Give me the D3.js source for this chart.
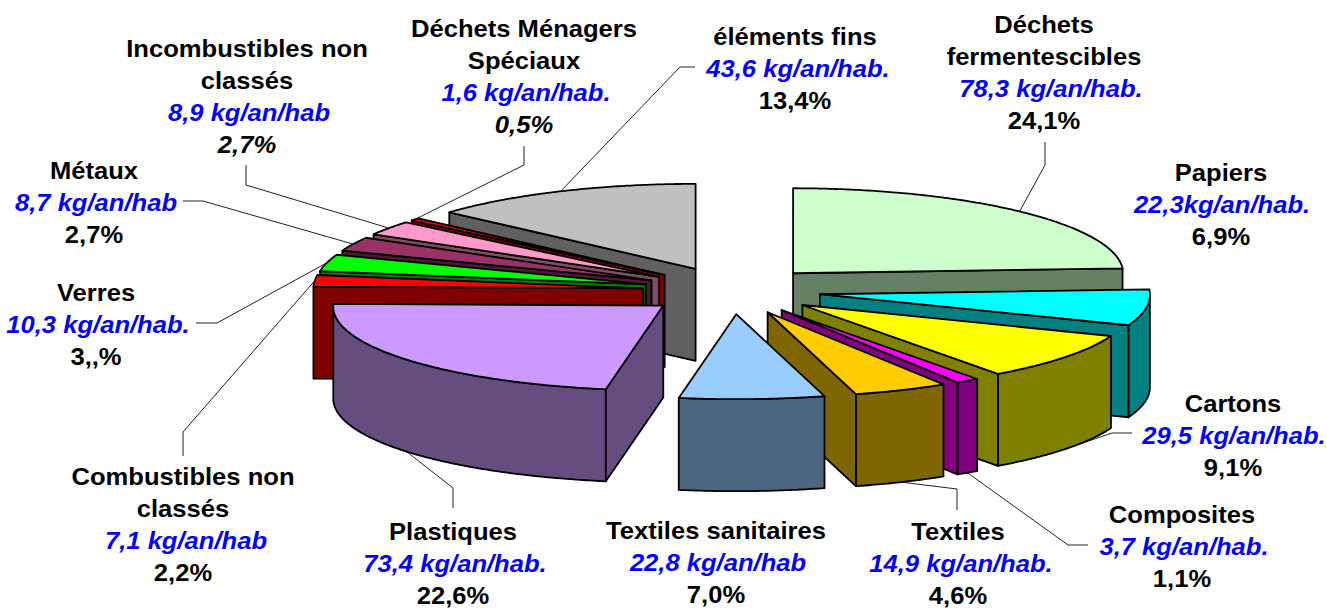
<!DOCTYPE html>
<html>
<head>
<meta charset="utf-8">
<script src="https://d3js.org/d3.v7.min.js"></script>
<title>Déchets par catégorie</title>
<style>
  body { margin:0; background:#fff; }
  text { font-family:"Liberation Sans", Arial, sans-serif; font-weight:bold; text-anchor:middle; font-size:24px; }
</style>
</head>
<body>
<div id="chart"></div>
<script>
// values, clockwise from 12 o'clock
var categories = ["Déchets|fermentescibles","Papiers","Cartons","Composites","Textiles",
  "Textiles sanitaires","Plastiques","Combustibles non|classés","Verres","Métaux",
  "Incombustibles non|classés","Déchets Ménagers|Spéciaux","éléments fins"];
var kgValues = [78.3,22.3,29.5,3.7,14.9,22.8,73.4,7.1,10.3,8.7,8.9,1.6,43.6];
var kgLabels = ["78,3 kg/an/hab.","22,3kg/an/hab.","29,5 kg/an/hab.","3,7 kg/an/hab.","14,9 kg/an/hab.",
  "22,8 kg/an/hab","73,4 kg/an/hab.","7,1 kg/an/hab","10,3 kg/an/hab.","8,7 kg/an/hab",
  "8,9 kg/an/hab","1,6 kg/an/hab.","43,6 kg/an/hab."];
var pctLabels = ["24,1%","6,9%","9,1%","1,1%","4,6%","7,0%","22,6%","2,2%","3,,%","2,7%","2,7%","0,5%","13,4%"];
var topColors = ["#CCFFCC","#00FFFF","#FFFF00","#FF00FF","#FFCC00","#99CCFF","#CC99FF",
  "#FF0000","#00FF00","#993366","#FF99CC","#FF0000","#C0C0C0"];

// label placement: centre x, centre y of the first line, nudge of the blue line
var labelX = [1044,1221,1233,1182,958,716,453,183,96,94,247,524,795];
var labelY = [24,172,403,514,531,530,531,476,292,170,48,28,36];
var kgShift = [7,1,1,2,3,2,2,3,2,2,2,2,3];
// leader elbows, from the slice edge to the label
var elbows = [
  [[1045,165],[1045,142]], [], [[1112,433],[1132,433]], [[1068,545],[1088,545]],
  [[957,489],[957,510]], [], [[453,488],[453,508]], [[183,432],[183,456]],
  [[217,323],[196,323]], [[203,201],[183,201]], [[246,185],[246,165]],
  [[524,165],[524,146]], [[680,67],[695,67]]
];

var w = 1327, h = 608;
var cx = 732, cy = 290.5;    // pie centre
var rx = 330, ry = 85;       // slice ellipse
var explodeX = 89, explodeY = 23.7;
var depth = 92;
var lineH = 32.2;
var widen = 1.066;           // labels are a bit wider than plain Arial
var nearGrow = 0.012;        // front of the pie is a little wider

var svg = d3.select("#chart").append("svg")
  .attr("width", w).attr("height", h).style("display", "block");

var pie = d3.pie().sort(null).value(function(d){ return d; });
var arcs = pie(kgValues);

var unit = d3.scaleLinear().domain([-1,1]);
var sx = unit.copy().range([-rx, rx]);
var sy = unit.copy().range([ry, -ry]);   // north is up

function apex(d) {
  var m = (d.startAngle + d.endAngle)/2;
  return [cx + explodeX*Math.sin(m), cy - explodeY*Math.cos(m)];
}
function rim(d, a) {
  var c = apex(d);
  var grow = 1 + nearGrow*Math.max(0, -Math.cos(a));
  return [c[0] + sx(Math.sin(a))*grow, c[1] + sy(Math.cos(a))];
}
function arcPoints(d, a0, a1) {
  var n = Math.max(2, Math.ceil((a1-a0)/0.01));
  return d3.range(n+1).map(function(i){ return rim(d, a0 + (a1-a0)*i/n); });
}
function down(p) { return [p[0], p[1]+depth]; }

function wallColor(c) {
  var col = d3.rgb(c);
  return d3.rgb(col.r/2, col.g/2, col.b/2).formatHex();
}

var line = d3.line();
function poly(pts) { return line(pts) + "Z"; }

var order = d3.range(arcs.length).sort(function(a,b){
  var ma = (arcs[a].startAngle+arcs[a].endAngle)/2, mb = (arcs[b].startAngle+arcs[b].endAngle)/2;
  return d3.descending(Math.cos(ma), Math.cos(mb));
});

// leaders sit under the slices
var leaders = svg.append("g").attr("fill","none").attr("stroke","#222").attr("stroke-width",1);
arcs.forEach(function(d,i){
  if (!elbows[i].length) return;
  var m = (d.startAngle+d.endAngle)/2;
  var p = rim(d, m);
  if (Math.cos(m) < 0) p = down(p);
  leaders.append("path").attr("d", line([p].concat(elbows[i])));
});

var slices = svg.selectAll("g.slice").data(order).enter().append("g").attr("class","slice")
  .attr("stroke","#000").attr("stroke-width",1.8).attr("stroke-linejoin","round");

slices.each(function(i){
  var d = arcs[i], g = d3.select(this);
  var wall = wallColor(topColors[i]);
  var c = apex(d);
  var a0 = d.startAngle, a1 = d.endAngle;

  // outer wall, front half only
  var f0 = Math.max(a0, Math.PI/2), f1 = Math.min(a1, Math.PI*1.5);
  if (f1 > f0) {
    var top = arcPoints(d, f0, f1);
    g.append("path").attr("fill", wall).attr("d", poly(top.concat(top.map(down).reverse())));
  }
  // radial walls that face the viewer
  if (Math.sin(a0) < -1e-6) {
    var p0 = rim(d, a0);
    g.append("path").attr("fill", wall).attr("d", poly([c, p0, down(p0), down(c)]));
  }
  if (Math.sin(a1) > 1e-6) {
    var p1 = rim(d, a1);
    g.append("path").attr("fill", wall).attr("d", poly([c, p1, down(p1), down(c)]));
  }
  // top face
  g.append("path").attr("fill", topColors[i])
    .attr("d", poly([c].concat(arcPoints(d, a0, a1))));
});

function addText(g, x, y, str, fill, italic) {
  g.append("text")
    .attr("transform", "translate(" + x + "," + y + ") scale(" + widen + ",1)")
    .attr("fill", fill)
    .attr("font-style", italic ? "italic" : null)
    .text(str);
}

// labels
categories.forEach(function(name,i){
  var g = svg.append("g");
  var y = labelY[i] + 8.5;
  name.split("|").forEach(function(t){
    addText(g, labelX[i], y, t, "#000", false);
    y += lineH;
  });
  addText(g, labelX[i] + kgShift[i], y, kgLabels[i], "#0000FF", true);
  addText(g, labelX[i], y + lineH, pctLabels[i], "#000", i==10||i==11);
});
</script>
</body>
</html>
